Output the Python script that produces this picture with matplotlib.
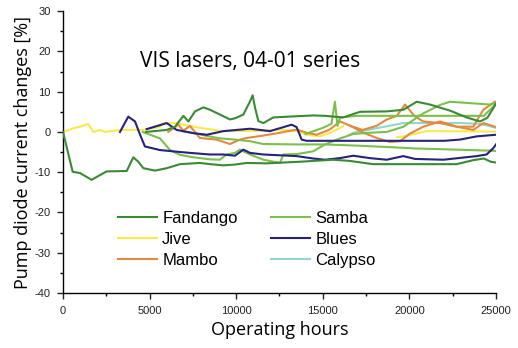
import numpy as np
import matplotlib.pyplot as plt

plt.rcParams['axes.unicode_minus'] = False

# --- data (hours, % change) ---
fandango_a_x = [0, 560, 980, 1650, 2140, 2520, 3680, 4060, 4350, 4640, 5310, 5990, 6760, 7910,
                8490, 9260, 9930, 10610, 11760, 13680, 15600, 16570, 17900, 20000, 22730, 23690,
                24300, 24700, 25000]
fandango_a_y = [0, -9.9, -10.2, -11.9, -10.7, -9.8, -9.7, -6.3, -7.4, -9.0, -9.6, -9.0, -8.0, -7.7,
                -8.0, -8.3, -8.1, -7.7, -7.8, -7.4, -6.9, -7.2, -8.0, -8.0, -8.0, -7.0,
                -6.6, -7.4, -7.6]
fandango_b_x = [4800, 5990, 6470, 6950, 7240, 7620, 8100, 8490, 9070, 9640, 9930, 10410, 10800,
                10950, 11090, 11280, 11570, 12140, 13490, 14450, 15130, 16180, 17150, 18690,
                19650, 20420, 21190, 22340, 23310, 24080, 24500, 25000]
fandango_b_y = [0.0, 0.5, 1.3, 4.0, 2.6, 5.1, 6.1, 5.5, 4.3, 3.1, 3.4, 4.3, 7.6,
                9.1, 6.0, 2.7, 2.2, 3.6, 3.9, 4.1, 4.0, 3.6, 5.0, 5.1,
                5.5, 7.5, 6.8, 5.3, 3.6, 2.6, 3.5, 7.0]

samba_a_x = [6900, 7910, 8300, 9070, 9930, 10800, 11570, 13500, 15130, 17000, 19000, 20320,
             22000, 23500, 25000]
samba_a_y = [0.2, -0.6, -1.0, -1.6, -1.9, -2.3, -3.0, -3.1, -3.1, -3.4, -3.8, -4.1,
             -4.3, -4.5, -4.7]
samba_b_x = [4600, 5600, 6180, 6760, 7530, 8490, 9060, 9450, 9930, 10220, 10800, 11570, 12530,
             12720, 13500, 14450, 15130, 16000, 16760, 17700, 18700, 19650, 20800, 21770,
             22340, 23690, 24650, 25000]
samba_b_y = [0, -1.6, -4.5, -5.7, -6.3, -6.8, -6.9, -5.6, -5.2, -4.4, -5.6, -6.9, -7.7,
             -5.6, -5.5, -4.8, -3.1, -1.6, -0.5, -0.2, 0.0, 1.3, 4.6, 6.7,
             7.5, 7.1, 6.8, 7.2]
samba_c_x = [14000, 15000, 15500, 15700, 15850, 16000, 17000, 20000, 23000, 24300, 25000]
samba_c_y = [-0.5, 1.0, 2.0, 7.5, 1.5, 3.6, 4.0, 4.0, 4.0, 4.0, 7.0]

jive_x = [0, 595, 980, 1460, 1750, 2140, 2430, 3290, 4640, 5600, 5790, 6560, 6950, 7910,
          9260, 11570, 12530, 13490, 14070, 14840, 15420, 16180, np.nan,
          19300, 19650, 20300, 21000, 25000]
jive_y = [0, 0.9, 1.3, 2.0, 0, 0.5, 0, 0.5, 0.5, 1.3, 2.2, 2.2, 1.8, 1.0,
          0.2, 0.3, 0.6, 0.2, -0.7, -1.1, -0.2, 1.4, np.nan,
          -1.3, -1.1, -0.5, 0.2, 0.1]

blues_a_x = [3290, 3770, 4160, 4450, 4730, 5600, 6560, 7330, 8490, 9260, 9930, 10410, 10800,
             11570, 13490, 14450, 15130, 15990, 16760, 17720, 18690, 19650, 20320, 21960,
             23890, 24460, 24850, 25000]
blues_a_y = [0, 3.8, 2.6, -0.7, -3.6, -4.5, -4.9, -5.2, -5.6, -5.6, -5.9, -4.4, -5.2,
             -5.6, -6.0, -6.6, -6.9, -6.5, -5.9, -6.5, -6.9, -6.0, -6.7, -6.9,
             -6.0, -5.6, -4.0, -3.1]
blues_b_x = [4830, 5990, 6560, 7530, 8300, 9260, 10800, 11950, 13200, 13490, 13780, 14070,
             18000, 22000, 22920, 23890, 25000]
blues_b_y = [0.7, 2.2, 0.5, -0.3, -0.7, 0.2, 0.8, 0.2, 1.8, 1.2, -1.9, -2.2,
             -2.2, -2.2, -1.9, -1.1, -0.7]

mambo_a_x = [6080, 6660, 6950, 7330, 7900, 8870, 9640, 10220, 10600, 11570, 12530, 13490, 14070,
             14650, 15400, 16000, 16600, 17300, 18100, 18700, 19270, 19750, 20300, 20800,
             21770, 22730, 23690, 24270, 24940]
mambo_a_y = [0.0, 1.8, 0.3, 1.5, -1.5, -1.9, -3.0, -1.9, -1.5, -0.9, -0.2, 0.6, -0.2,
             -0.7, 0.6, 2.6, 1.5, 0.5, 1.5, 3.1, 4.0, 6.8, 3.9, 2.6,
             2.2, 1.3, 1.3, 5.5, 7.5]
mambo_b_x = [16600, 17340, 18110, 18880, 19460, 20000, 20800, 21770, 22730, 23690, 24270, 24940]
mambo_b_y = [1.5, -0.2, -1.5, -2.5, -2.3, -0.5, 1.3, 2.6, 1.3, 0.5, 2.2, 1.3]

calypso_x = [16500, 16760, 17720, 18690, 19650, 21000, 23000, 24000, 24500, 25000]
calypso_y = [-0.8, -0.2, 0.6, 1.4, 2.2, 2.2, 2.2, 2.0, 1.6, 1.0]

series = [
    ("Fandango", "#3a8a34", [(fandango_a_x, fandango_a_y), (fandango_b_x, fandango_b_y)]),
    ("Jive", "#f7ea4a", [(jive_x, jive_y)]),
    ("Mambo", "#e28a3e", [(mambo_a_x, mambo_a_y), (mambo_b_x, mambo_b_y)]),
    ("Samba", "#7cbf4c", [(samba_a_x, samba_a_y), (samba_b_x, samba_b_y), (samba_c_x, samba_c_y)]),
    ("Blues", "#25237e", [(blues_a_x, blues_a_y), (blues_b_x, blues_b_y)]),
    ("Calypso", "#93d3d0", [(calypso_x, calypso_y)]),
]
draw_order = ["Jive", "Calypso", "Mambo", "Samba", "Blues", "Fandango"]

fig = plt.figure(figsize=(5.18, 3.48), dpi=100)
ax = fig.add_axes([0.1216, 0.158, 0.8359, 0.810])

handles = {}
for name, color, parts in series:
    z = 2 + draw_order.index(name)
    for i, (xs, ys) in enumerate(parts):
        ln, = ax.plot(xs, ys, color=color, lw=1.5, zorder=z)
        if i == 0:
            handles[name] = ln

ax.set_xlim(0, 25000)
ax.set_ylim(-40, 30)
ax.set_xticks(np.arange(0, 25001, 5000))
ax.set_xticks(np.arange(0, 25001, 2500), minor=True)
ax.set_yticks(np.arange(-40, 31, 10))
ax.set_yticks(np.arange(-40, 31, 5), minor=True)
for s in ["top", "right"]:
    ax.spines[s].set_visible(False)
for s in ["left", "bottom"]:
    ax.spines[s].set_linewidth(1.0)
ax.tick_params(which="major", direction="out", length=4, width=1, labelsize=8,
               colors="#222222", pad=5)
ax.tick_params(which="minor", direction="out", length=2.5, width=1)
for lab in ax.get_xticklabels() + ax.get_yticklabels():
    lab.set_family("Liberation Sans")

ax.set_xlabel("Operating hours", fontsize=13, family="Open Sans", labelpad=4)
ax.set_ylabel("Pump diode current changes [%]", fontsize=13, family="Open Sans", labelpad=2)

ax.text(4450, 17.5, "VIS lasers, 04-01 series", fontsize=15, family="Open Sans", va="center")

order = ["Fandango", "Jive", "Mambo", "Samba", "Blues", "Calypso"]
ax.legend([handles[n] for n in order], order, ncol=2, frameon=False,
          loc="center left", bbox_to_anchor=(0.127, 0.19), borderpad=0, borderaxespad=0,
          prop={"family": "Liberation Sans", "size": 12},
          handlelength=2.35, handletextpad=0.3, columnspacing=2.0, labelspacing=0.35)

fig.savefig("out.png", dpi=100)
